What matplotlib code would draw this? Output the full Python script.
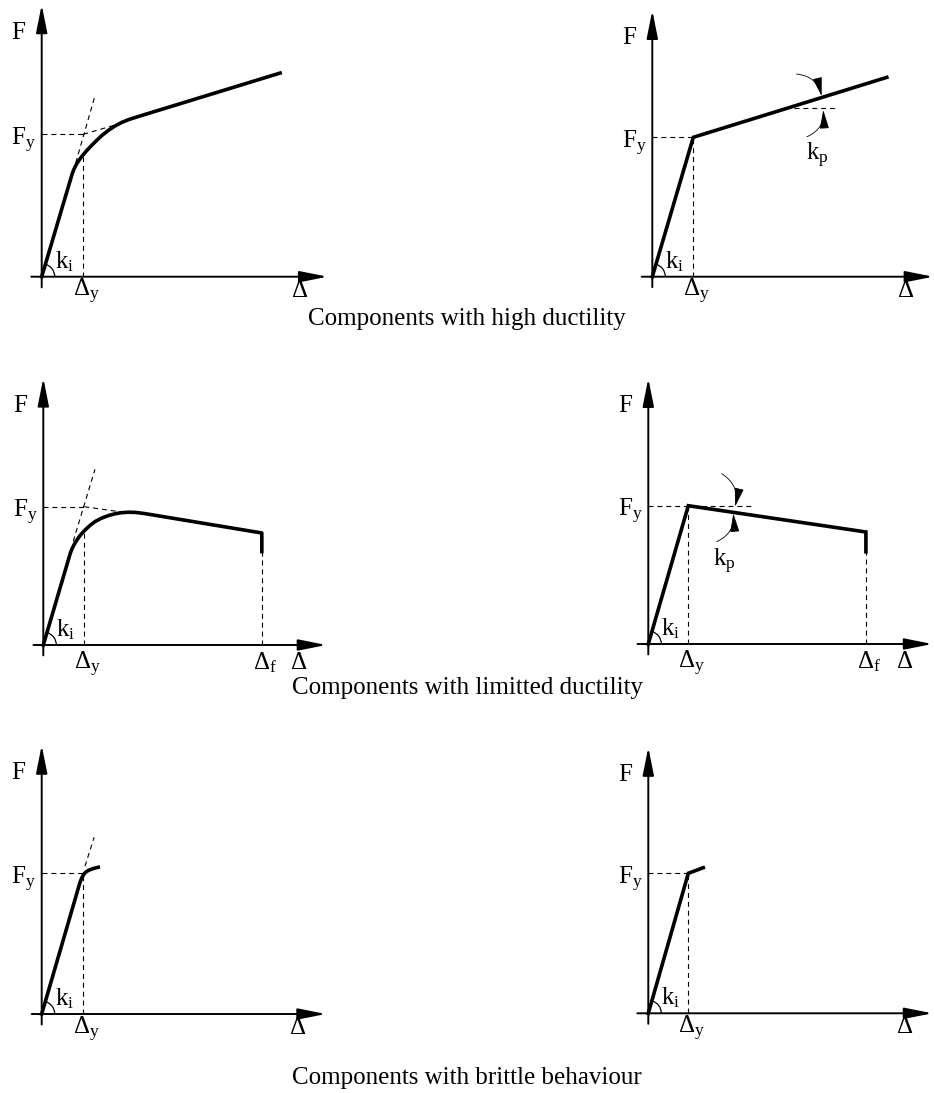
import matplotlib
matplotlib.use("Agg")
import matplotlib.pyplot as plt
from matplotlib.patches import Arc
import numpy as np

plt.rcParams['font.family'] = ['Liberation Serif', 'DejaVu Serif']
plt.rcParams['mathtext.fontset'] = 'custom'
plt.rcParams['mathtext.rm'] = 'Liberation Serif'
plt.rcParams['mathtext.it'] = 'Liberation Serif:italic'

# data in normalized units: delta / delta_y, F / F_y
# high ductility, smooth curve
hd_curve_d = [0, 0.72, 0.74, 0.78, 0.83, 0.89, 0.96, 1.08, 1.20, 1.32, 1.44, 1.60,
              1.76, 1.92, 2.08, 2.28, 2.48, 5.73]
hd_curve_f = [0, 0.71, 0.728, 0.758, 0.787, 0.815, 0.843, 0.885, 0.922, 0.957, 0.99, 1.027,
              1.058, 1.083, 1.102, 1.121, 1.139, 1.43]
hd_tan_ki = ([0.76, 1.27], [0.74, 1.26])
hd_tan_kp = ([1.0, 1.94], [1.0, 1.08])
hd_vert_f = 0.843

# high ductility, bilinear
hd_bil_d = [0, 1, 5.72]
hd_bil_f = [0, 1, 1.43]
hd_kp_ref = ([3.45, 4.5], [1.21, 1.21])
hd_kp_arrows = [((3.52, 1.454), (4.13, 1.296), -0.35), ((3.77, 1.004), (4.17, 1.196), 0.35)]
hd_kp_label = (3.75, 0.837)

# limited ductility, smooth curve
ld_curve_d = [0, 0.66, 0.70, 0.75, 0.81, 0.88, 0.95, 1.02, 1.14, 1.26, 1.42, 1.59, 1.75,
              1.91, 2.08, 2.24, 2.48, 5.33, 5.33]
ld_curve_f = [0, 0.665, 0.695, 0.725, 0.755, 0.785, 0.81, 0.832, 0.865, 0.892, 0.917, 0.936, 0.949,
              0.957, 0.960, 0.959, 0.950, 0.81, 0.675]
ld_tan_ki = ([0.73, 1.26], [0.75, 1.27])
ld_tan_kp = ([1.0, 1.95], [1.0, 0.96])
ld_vert_f = 0.832
ld_delta_f = 5.33
ld_fail_f = 0.675

# limited ductility, bilinear
ld_bil_d = [0, 1, 5.44, 5.44]
ld_bil_f = [0, 1, 0.81, 0.667]
ld_kp_ref = ([0, 2.58], [1.0, 1.0])
ld_kp_arrows = [((1.835, 1.232), (2.17, 0.993), -0.35), ((1.71, 0.74), (2.125, 0.945), 0.35)]
ld_kp_label = (1.625, 0.564)
ld_bil_delta_f = 5.44
ld_bil_fail_f = 0.667

# brittle
br_curve_d = [0, 0.92, 0.96, 1.0, 1.05, 1.12, 1.20, 1.28, 1.36]
br_curve_f = [0, 0.935, 0.965, 0.988, 1.006, 1.02, 1.03, 1.037, 1.043]
br_tan_ki = ([1.04, 1.26], [1.05, 1.256])
br_vert_f = 0.988
br_bil_d = [0, 1, 1.375]
br_bil_f = [0, 1, 1.04]

captions = ["Components with high ductility",
            "Components with limitted ductility",
            "Components with brittle behaviour"]

W, H = 934, 1093
fig = plt.figure(figsize=(W / 100, H / 100), dpi=100)

FS = 18
LW_CURVE = 2.6
LW_AXIS = 1.4
DASH = dict(color='k', lw=0.8, dashes=(4.5, 3.5))


def make_panel(ox, oy, sx, sy):
    # axes placed so that origin sits at pixel (ox, oy), 1 unit = sx / sy pixels
    x0, x1, y0, y1 = -0.5, 7.4, -0.3, 2.1
    left = ox + x0 * sx
    bottom = oy - y0 * sy
    ax = fig.add_axes([left / W, (H - bottom) / H, (x1 - x0) * sx / W, (y1 - y0) * sy / H])
    ax.set_xlim(x0, x1)
    ax.set_ylim(y0, y1)
    ax.axis('off')
    return ax


def draw_axes(ax, xtip, ytip, xstart=-0.25, ystart=-0.075, lab_dy=-20):
    style = '-|>,head_length=0.85,head_width=0.17'
    ax.annotate('', xy=(xtip, 0), xytext=(xstart, 0),
                arrowprops=dict(arrowstyle=style, mutation_scale=20, lw=LW_AXIS,
                                color='k', shrinkA=0, shrinkB=0))
    ax.annotate('', xy=(0, ytip), xytext=(0, ystart),
                arrowprops=dict(arrowstyle=style, mutation_scale=20, lw=LW_AXIS,
                                color='k', shrinkA=0, shrinkB=0))
    ax.annotate('F', xy=(0, ytip), xytext=(-23, -34), textcoords='offset pixels',
                ha='center', va='baseline', fontsize=FS)
    ax.annotate(r'$\Delta$', xy=(xtip, 0), xytext=(-28, lab_dy), textcoords='offset pixels',
                ha='center', va='baseline', fontsize=FS)
    ax.annotate(r'$\mathrm{F}_\mathrm{y}$', xy=(0, 1), xytext=(-6, -11),
                textcoords='offset pixels', ha='right', va='baseline', fontsize=FS)
    ax.annotate(r'$\Delta_\mathrm{y}$', xy=(1, 0), xytext=(-10.5, lab_dy),
                textcoords='offset pixels', ha='left', va='baseline', fontsize=FS)
    ax.annotate(r'$\mathrm{k}_\mathrm{i}$', xy=(0, 0), xytext=(13, 8.5),
                textcoords='offset pixels', ha='left', va='baseline', fontsize=FS)


def ki_arc(ax, sx, sy, d, f):
    ang = np.degrees(np.arctan2(f, d))
    r = 13
    ax.add_patch(Arc((0, 0), 2 * r / sx, 2 * r / sy, theta1=0, theta2=ang,
                     color='k', lw=0.9))


def kp_marks(ax, arrows, label):
    for start, end, rad in arrows:
        ax.annotate('', xy=end, xytext=start,
                    arrowprops=dict(arrowstyle='-|>,head_length=0.9,head_width=0.22',
                                    mutation_scale=13, lw=0.6, color='k',
                                    shrinkA=0, shrinkB=0,
                                    connectionstyle='arc3,rad=%s' % rad))
    ax.text(label[0], label[1], r'$\mathrm{k}_\mathrm{p}$', ha='left', va='baseline', fontsize=FS)


def df_label(ax, x, dy):
    ax.annotate(r'$\Delta_\mathrm{f}$', xy=(x, 0), xytext=(-9, dy),
                textcoords='offset pixels', ha='left', va='baseline', fontsize=FS)


# panel 1: high ductility, smooth
sx, sy = 41.6, 142.4
ax = make_panel(41.7, 276.7, sx, sy)
ax.plot([0, 1], [1, 1], **DASH)
ax.plot([1, 1], [0, hd_vert_f], **DASH)
ax.plot(*hd_tan_ki, **DASH)
ax.plot(*hd_tan_kp, **DASH)
ax.plot(hd_curve_d, hd_curve_f, color='k', lw=LW_CURVE, solid_joinstyle='round')
draw_axes(ax, 6.87, 1.91)
ki_arc(ax, sx, sy, hd_curve_d[1], hd_curve_f[1])

# panel 2: high ductility, bilinear
sx, sy = 41.0, 139.4
ax = make_panel(652.3, 276.7, sx, sy)
ax.plot([0, 1], [1, 1], **DASH)
ax.plot([1, 1], [0, 1], **DASH)
ax.plot(*hd_kp_ref, **DASH)
ax.plot(hd_bil_d, hd_bil_f, color='k', lw=LW_CURVE, solid_joinstyle='miter')
draw_axes(ax, 6.85, 1.91, xstart=-0.26)
ki_arc(ax, sx, sy, hd_bil_d[1], hd_bil_f[1])
kp_marks(ax, hd_kp_arrows, hd_kp_label)

# panel 3: limited ductility, smooth
sx, sy = 41.0, 138.3
ax = make_panel(43.3, 645, sx, sy)
ax.plot([0, 1], [1, 1], **DASH)
ax.plot([1, 1], [0, ld_vert_f], **DASH)
ax.plot([ld_delta_f, ld_delta_f], [0, ld_fail_f], **DASH)
ax.plot(*ld_tan_ki, **DASH)
ax.plot(*ld_tan_kp, **DASH)
ax.plot(ld_curve_d, ld_curve_f, color='k', lw=LW_CURVE, solid_joinstyle='round')
draw_axes(ax, 6.9, 1.93, xstart=-0.24, lab_dy=-24)
ki_arc(ax, sx, sy, ld_curve_d[1], ld_curve_f[1])
df_label(ax, ld_delta_f, -24)

# panel 4: limited ductility, bilinear
sx, sy = 40.0, 138.3
ax = make_panel(648.3, 644, sx, sy)
ax.plot(*ld_kp_ref, **DASH)
ax.plot([1, 1], [0, 1], **DASH)
ax.plot([ld_bil_delta_f, ld_bil_delta_f], [0, ld_bil_fail_f], **DASH)
ax.plot(ld_bil_d, ld_bil_f, color='k', lw=LW_CURVE, solid_joinstyle='miter')
draw_axes(ax, 7.1, 1.92, xstart=-0.27, lab_dy=-24)
ki_arc(ax, sx, sy, ld_bil_d[1], ld_bil_f[1])
kp_marks(ax, ld_kp_arrows, ld_kp_label)
df_label(ax, ld_bil_delta_f, -24)

# panel 5: brittle, smooth
sx, sy = 41.6, 140.7
ax = make_panel(41.7, 1014, sx, sy)
ax.plot([0, 1], [1, 1], **DASH)
ax.plot([1, 1], [0, br_vert_f], **DASH)
ax.plot(*br_tan_ki, **DASH)
ax.plot(br_curve_d, br_curve_f, color='k', lw=LW_CURVE, solid_joinstyle='round')
draw_axes(ax, 6.83, 1.91, xstart=-0.24)
ki_arc(ax, sx, sy, br_curve_d[1], br_curve_f[1])

# panel 6: brittle, bilinear
sx, sy = 40.0, 140.0
ax = make_panel(648.3, 1013.3, sx, sy)
ax.plot([0, 1], [1, 1], **DASH)
ax.plot([1, 1], [0, 1], **DASH)
ax.plot(br_bil_d, br_bil_f, color='k', lw=LW_CURVE, solid_joinstyle='miter')
draw_axes(ax, 7.1, 1.9, xstart=-0.275)
ki_arc(ax, sx, sy, br_bil_d[1], br_bil_f[1])

# captions
for txt, yb in zip(captions, [325, 694, 1084]):
    fig.text(467 / W, 1 - yb / H, txt, ha='center', va='baseline', fontsize=FS)

fig.savefig("out.png", dpi=100)
